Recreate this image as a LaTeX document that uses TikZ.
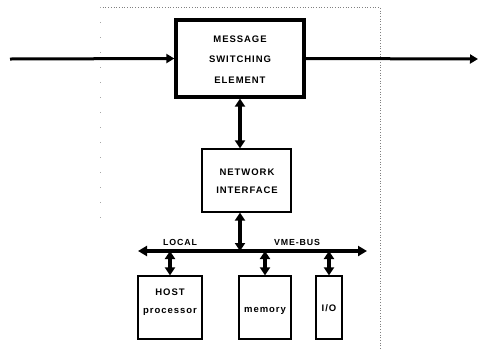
\documentclass[tikz,border=0pt]{standalone}
\usepackage{fontspec}
\setmainfont{Liberation Sans}
\usetikzlibrary{arrows.meta}
\newfontfamily\lblfont[LetterSpace=10]{Liberation Sans}
\tikzset{
  mainbox/.style={draw, line width=3.3pt, inner sep=0pt},
  unitbox/.style={draw, line width=1.3pt, inner sep=0pt},
  lbl/.style={font=\lblfont\bfseries\fontsize{9.5}{18}\selectfont, align=center, inner sep=0pt},
  smalllbl/.style={font=\lblfont\bfseries\fontsize{8.8}{10}\selectfont, inner sep=0pt},
  flow/.style={line width=3pt, -{Triangle[length=8pt,width=9pt]}},
  dbl/.style={line width=3.2pt, {Triangle[length=8pt,width=10pt]}-{Triangle[length=8pt,width=10pt]}},
  frame/.style={gray, line width=0.7pt, dotted}
}
\begin{document}
\begin{tikzpicture}[x=1pt,y=-1pt]
  \useasboundingbox (0,0) rectangle (479,349);
  % dotted enclosure
  \coordinate (fTL) at (100,7);
  \coordinate (fTR) at (380,7);
  \coordinate (fBR) at (380,349);
  \coordinate (fBL) at (100,230);
  \draw[frame] (fTL) -- (fTR) -- (fBR);
  \draw[gray!70, line width=0.5pt, dash pattern=on 1pt off 14pt] (fTL) -- (fBL);

  % message switching element
  \node[mainbox, minimum width=128pt, minimum height=77pt] (mse) at (240,58.5) {};
  \node[lbl, font=\lblfont\bfseries\fontsize{9.5}{20.5}\selectfont] (msetxt) at (240,59.5) {MESSAGE\\SWITCHING\\ELEMENT};

  % network interface
  \node[unitbox, minimum width=89pt, minimum height=63pt] (ni) at (246.5,180.5) {};
  \node[lbl] (nitxt) at (247,181.5) {NETWORK\\INTERFACE};

  % units on the bus
  \node[unitbox, minimum width=64pt, minimum height=63pt] (host) at (170,307.5) {};
  \node[lbl] (hosttxt) at (170,302.5) {HOST\\processor};
  \node[unitbox, minimum width=52pt, minimum height=63pt] (mem) at (265,307.5) {};
  \node[lbl] (memtxt) at (265,311) {memory};
  \node[unitbox, minimum width=26pt, minimum height=63pt] (io) at (329,307.5) {};
  \node[lbl] (iotxt) at (329,308) {I/O};

  % bus
  \coordinate (busL) at (138,251);
  \coordinate (busR) at (367,251);
  \draw[line width=3.4pt, {Triangle[length=9pt,width=10pt]}-{Triangle[length=9pt,width=10pt]}] (busL) -- (busR);
  \node[smalllbl] (local) at (180,242) {LOCAL};
  \node[smalllbl] (vme) at (297,242) {VME-BUS};

  % message flow through the element
  \coordinate (in) at (10,59);
  \coordinate (out) at (478,59);
  \draw[flow] (in) -- (mse.west);
  \draw[flow] (mse.east) -- (out);

  % vertical links
  \draw[dbl] (mse.south) -- (mse.south |- ni.north);
  \draw[dbl] (mse.south |- ni.south) -- (mse.south |- busL);
  \draw[dbl] (host.north) -- (host.north |- busL);
  \draw[dbl] (mem.north) -- (mem.north |- busL);
  \draw[dbl] (io.north) -- (io.north |- busL);
\end{tikzpicture}
\end{document}
